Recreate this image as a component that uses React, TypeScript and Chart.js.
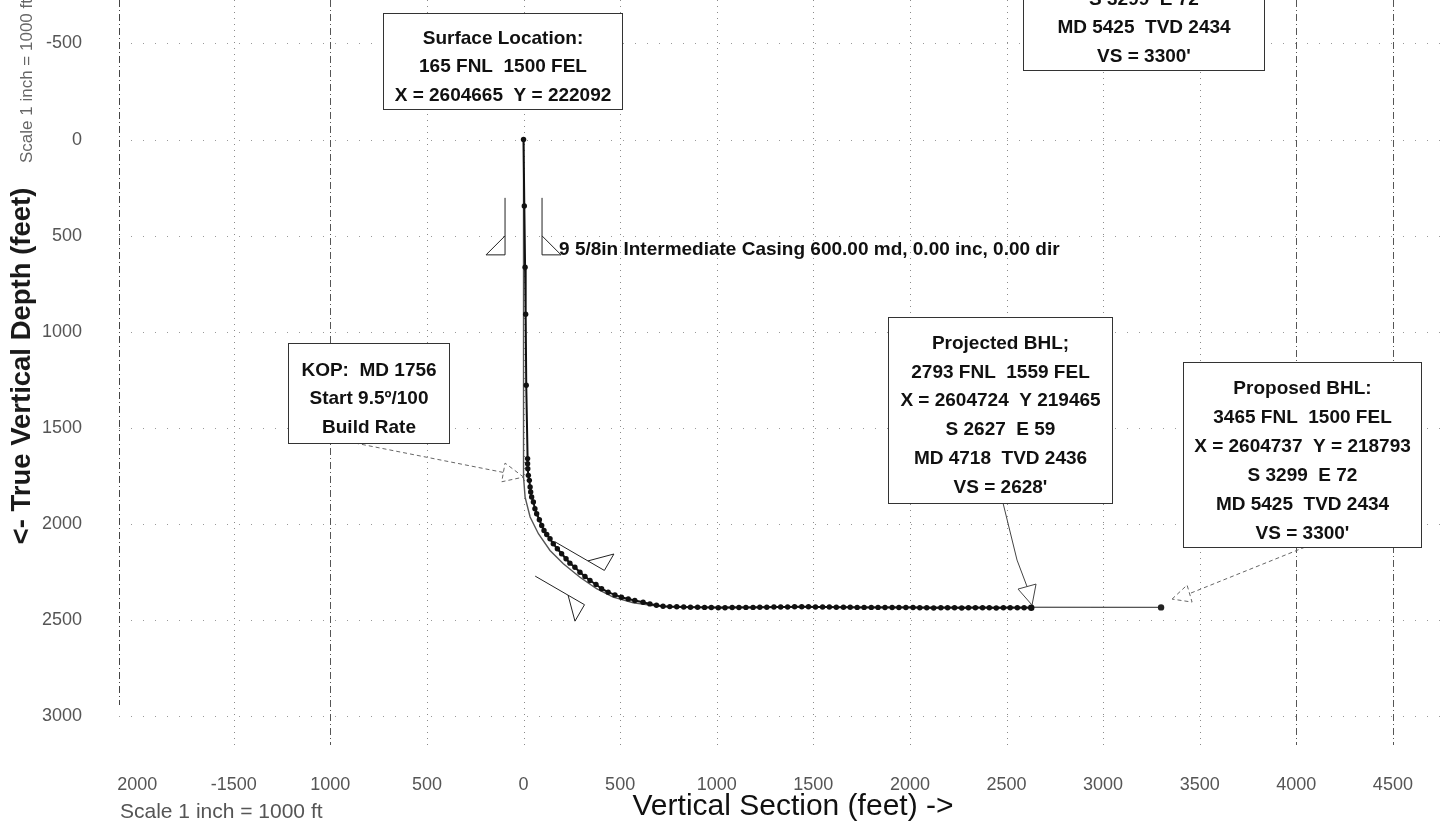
import { useEffect, useRef } from "react";
import { Chart, registerables } from "chart.js";

Chart.register(...registerables);

const FONT = "'Liberation Sans', Arial, Helvetica, sans-serif";

// ---- axes ----
const X_MIN = -2094;
const X_MAX = 4749;
const Y_MIN = -726;
const Y_MAX = 3150;
const X_TICKS = [-2000, -1500, -1000, -500, 0, 500, 1000, 1500, 2000, 2500, 3000, 3500, 4000, 4500];
const X_TICK_LABELS = ["2000", "-1500", "1000", "500", "0", "500", "1000", "1500", "2000", "2500", "3000", "3500", "4000", "4500"];
const Y_TICKS = [-500, 0, 500, 1000, 1500, 2000, 2500, 3000];
const Y_TICK_LABELS = ["-500", "0", "500", "1000", "1500", "2000", "2500", "3000"];
const X_STRONG_GRID = [-1000, 4000, 4500];

// ---- planned well path (vertical section ft, TVD ft) ----
const PLAN_VS = [0, 0, 8, 34, 77, 137, 206, 292, 378, 464, 568, 671, 760, 3300];
const PLAN_TVD = [0, 1756, 1860, 1964, 2051, 2138, 2207, 2277, 2337, 2381, 2410, 2424, 2432, 2434];

// ---- actual survey stations ----
const ACT_VS = [
  0, 4, 8, 11, 14, 21, 21, 22, 25, 30, 34, 37, 42, 51, 59, 68, 82, 94, 106, 120, 137, 154, 175, 197, 220,
  240, 266, 292, 318, 344, 375, 404, 438, 473, 507, 542, 576, 619, 654, 688, 722, 757,
  793, 829, 864, 901, 937, 972, 1008, 1043, 1080, 1115, 1151, 1188, 1223, 1259, 1296, 1331, 1367, 1403,
  1440, 1475, 1511, 1548, 1583, 1619, 1656, 1691, 1727, 1763, 1800, 1835, 1871, 1908, 1943, 1979, 2016,
  2051, 2087, 2123, 2160, 2195, 2231, 2268, 2303, 2339, 2376, 2411, 2447, 2484, 2519, 2556, 2591, 2628,
];
const ACT_TVD = [
  0, 346, 664, 909, 1278, 1660, 1687, 1713, 1747, 1773, 1808, 1834, 1860, 1886, 1921, 1947, 1978, 2008, 2034,
  2055, 2077, 2103, 2129, 2155, 2181, 2204, 2225, 2251, 2273, 2294, 2315, 2337, 2355, 2369, 2381, 2390, 2398,
  2407, 2416, 2423, 2428, 2430,
  2431, 2432, 2433, 2433, 2434, 2435, 2436, 2436, 2435, 2435, 2434, 2434, 2433, 2433, 2432, 2432, 2432, 2431,
  2431, 2431, 2432, 2432, 2432, 2433, 2433, 2433, 2434, 2434, 2434, 2434, 2435, 2435, 2435, 2435, 2435,
  2436, 2436, 2437, 2436, 2436, 2436, 2437, 2436, 2436, 2436, 2436, 2437, 2436, 2436, 2436, 2436, 2436,
];

// ---- annotation boxes (anchored in data units: centre VS, top TVD) ----
const BOX_SURFACE = ["Surface Location:", "165 FNL  1500 FEL", "X = 2604665  Y = 222092"];
const BOX_KOP = ["KOP:  MD 1756", "Start 9.5º/100", "Build Rate"];
const BOX_PROJECTED = ["Projected BHL;", "2793 FNL  1559 FEL", "X = 2604724  Y 219465", "S 2627  E 59", "MD 4718  TVD 2436", "VS = 2628'"];
const BOX_PROPOSED = ["Proposed BHL:", "3465 FNL  1500 FEL", "X = 2604737  Y = 218793", "S 3299  E 72", "MD 5425  TVD 2434", "VS = 3300'"];
const CASING_LABEL = "9 5/8in Intermediate Casing 600.00 md, 0.00 inc, 0.00 dir";

const BOXES = [
  { vs: -109, tvd: -658, w: 239, h: 96, first: 25, gap: 28.5, lines: BOX_SURFACE },
  { vs: -802, tvd: 1059, w: 161, h: 100, first: 27, gap: 28.5, lines: BOX_KOP },
  { vs: 2466, tvd: 923, w: 224, h: 186, first: 26, gap: 28.8, lines: BOX_PROJECTED },
  { vs: 4029, tvd: 1156, w: 238, h: 185, first: 26.6, gap: 29, lines: BOX_PROPOSED },
  { vs: 3209, tvd: -1324, w: 241, h: 185, first: 27.5, gap: 28.8, lines: BOX_PROPOSED },
];

type Pt = [number, number];
const LEADERS: { vs: number; tvd: number; tip: Pt; c1: Pt; c2: Pt; path: Pt[]; dashed: boolean }[] = [
  { vs: 0, tvd: 1756, tip: [0, 0], c1: [-18.5, -14], c2: [-21.8, 4.7], path: [[-168.5, -34], [-20, -4.6]], dashed: true },
  { vs: 2628, tvd: 2436, tip: [0.8, -2.7], c1: [-13.2, -18.7], c2: [4.8, -23.7], path: [[-28.2, -104.7], [-14.2, -47.7], [-4.2, -21.2]], dashed: false },
  { vs: 3300, tvd: 2434, tip: [11, -8.3], c1: [26, -22.3], c2: [31, -5.3], path: [[144, -60.3], [28.5, -13.8]], dashed: true },
];

// casing shoes: anchor (VS, TVD), path direction angle in screen degrees
const CASINGS = [
  { vs: 0, tvd: 600, angle: 90, off: 18.5 },
  { vs: 367, tvd: 2331, angle: 30.1, off: 19.8 },
];

const overlay = {
  id: "wellOverlay",
  beforeDatasetsDraw(chart: any) {
    const ctx = chart.ctx as CanvasRenderingContext2D;
    const xs = chart.scales.x;
    const ys = chart.scales.y;
    const a = chart.chartArea;
    ctx.save();
    ctx.lineWidth = 1;
    // horizontal grid
    Y_TICKS.forEach((v) => {
      const py = Math.round(ys.getPixelForValue(v)) + 0.5;
      ctx.strokeStyle = "#9a9a9a";
      ctx.setLineDash([1, 11]);
      ctx.beginPath();
      ctx.moveTo(a.left, py);
      ctx.lineTo(a.right, py);
      ctx.stroke();
    });
    // vertical grid
    X_TICKS.forEach((v) => {
      if (v === -2000) return;
      const px = Math.round(xs.getPixelForValue(v)) + 0.5;
      const strong = X_STRONG_GRID.includes(v);
      ctx.strokeStyle = strong ? "#555" : "#8a8a8a";
      ctx.setLineDash(strong ? [7, 3, 1, 3] : [1, 5]);
      ctx.beginPath();
      ctx.moveTo(px, a.top);
      ctx.lineTo(px, a.bottom);
      ctx.stroke();
    });
    // left frame line
    ctx.strokeStyle = "#444";
    ctx.setLineDash([7, 3, 1, 3]);
    ctx.beginPath();
    ctx.moveTo(a.left + 0.5, a.top);
    ctx.lineTo(a.left + 0.5, a.bottom - 40);
    ctx.stroke();
    ctx.restore();
  },
  afterDatasetsDraw(chart: any) {
    const ctx = chart.ctx as CanvasRenderingContext2D;
    const xs = chart.scales.x;
    const ys = chart.scales.y;
    ctx.save();

    // casing shoe symbols
    ctx.strokeStyle = "#222";
    ctx.lineWidth = 1;
    ctx.setLineDash([]);
    CASINGS.forEach((c) => {
      const px = xs.getPixelForValue(c.vs);
      const py = ys.getPixelForValue(c.tvd);
      const r = (c.angle * Math.PI) / 180;
      const d: Pt = [Math.cos(r), Math.sin(r)];
      const n: Pt = [d[1], -d[0]];
      [1, -1].forEach((s) => {
        const t: Pt = [px + s * c.off * n[0], py + s * c.off * n[1]];
        ctx.beginPath();
        ctx.moveTo(t[0] - 57 * d[0], t[1] - 57 * d[1]);
        ctx.lineTo(t[0], t[1]);
        ctx.lineTo(t[0] + s * 19 * n[0], t[1] + s * 19 * n[1]);
        ctx.lineTo(t[0] - 19 * d[0], t[1] - 19 * d[1]);
        ctx.stroke();
      });
    });

    // casing label
    ctx.fillStyle = "#111";
    ctx.font = `bold 19px ${FONT}`;
    ctx.textAlign = "left";
    ctx.textBaseline = "alphabetic";
    ctx.fillText(CASING_LABEL, xs.getPixelForValue(0) + 35.5, ys.getPixelForValue(600));

    // leader lines with hollow arrow heads
    LEADERS.forEach((l) => {
      const ax = xs.getPixelForValue(l.vs);
      const ay = ys.getPixelForValue(l.tvd);
      ctx.strokeStyle = l.dashed ? "#666" : "#444";
      ctx.lineWidth = 1;
      ctx.setLineDash(l.dashed ? [4, 3] : []);
      ctx.beginPath();
      l.path.forEach((p, i) => (i === 0 ? ctx.moveTo(ax + p[0], ay + p[1]) : ctx.lineTo(ax + p[0], ay + p[1])));
      ctx.stroke();
      ctx.beginPath();
      ctx.moveTo(ax + l.tip[0], ay + l.tip[1]);
      ctx.lineTo(ax + l.c1[0], ay + l.c1[1]);
      ctx.lineTo(ax + l.c2[0], ay + l.c2[1]);
      ctx.closePath();
      ctx.stroke();
    });

    // text boxes
    ctx.setLineDash([]);
    BOXES.forEach((b) => {
      const cx = xs.getPixelForValue(b.vs);
      const top = Math.round(ys.getPixelForValue(b.tvd)) + 0.5;
      const left = Math.round(cx - b.w / 2) + 0.5;
      ctx.fillStyle = "#fff";
      ctx.fillRect(left, top, b.w, b.h);
      ctx.strokeStyle = "#333";
      ctx.lineWidth = 1;
      ctx.strokeRect(left, top, b.w, b.h);
      ctx.fillStyle = "#111";
      ctx.font = `bold 19px ${FONT}`;
      ctx.textAlign = "center";
      ctx.textBaseline = "middle";
      b.lines.forEach((t, i) => ctx.fillText(t, left + b.w / 2, top + b.first + i * b.gap));
    });
    ctx.restore();
  },
  afterDraw(chart: any) {
    const ctx = chart.ctx as CanvasRenderingContext2D;
    ctx.save();
    // y title
    ctx.translate(22.5, 366);
    ctx.rotate(-Math.PI / 2);
    ctx.fillStyle = "#1a1a1a";
    ctx.font = `bold 27.5px ${FONT}`;
    ctx.textAlign = "center";
    ctx.textBaseline = "middle";
    ctx.fillText("<- True Vertical Depth (feet)", 0, 0);
    ctx.restore();

    ctx.save();
    ctx.translate(27, 163);
    ctx.rotate(-Math.PI / 2);
    ctx.fillStyle = "#666";
    ctx.font = `17px ${FONT}`;
    ctx.textAlign = "left";
    ctx.textBaseline = "middle";
    ctx.fillText("Scale 1 inch = 1000 ft", 0, 0);
    ctx.restore();

    ctx.save();
    ctx.fillStyle = "#111";
    ctx.font = `30px ${FONT}`;
    ctx.textAlign = "center";
    ctx.textBaseline = "middle";
    ctx.fillText("Vertical Section (feet) ->", 793, 807);
    ctx.fillStyle = "#555";
    ctx.font = `21px ${FONT}`;
    ctx.textAlign = "left";
    ctx.fillText("Scale 1 inch = 1000 ft", 120, 812);
    ctx.restore();
  },
};

const noPad = (s: any) => {
  s.paddingTop = 0;
  s.paddingBottom = 0;
  s.paddingLeft = 0;
  s.paddingRight = 0;
};

export default function App() {
  const ref = useRef<HTMLCanvasElement | null>(null);
  useEffect(() => {
    document.body.style.margin = "0";
    const canvas = ref.current;
    if (!canvas) return;
    const actual = ACT_VS.map((x, i) => ({ x, y: ACT_TVD[i] }));
    const planned = PLAN_VS.map((x, i) => ({ x, y: PLAN_TVD[i] }));
    const chart = new Chart(canvas, {
      type: "scatter",
      data: {
        datasets: [
          {
            label: "Actual",
            data: actual,
            showLine: true,
            borderColor: "#111",
            borderWidth: 2,
            pointRadius: actual.map((_, i) => (i === actual.length - 1 ? 3.2 : 2.7)),
            pointBackgroundColor: "#111",
            pointBorderWidth: 0,
          },
          {
            label: "Planned",
            data: planned,
            showLine: true,
            borderColor: "#555",
            borderWidth: 1.4,
            pointRadius: planned.map((_, i) => (i === planned.length - 1 ? 3.2 : 0)),
            pointBackgroundColor: "#222",
            pointBorderWidth: 0,
          },
        ],
      },
      options: {
        responsive: false,
        animation: false,
        layout: { padding: 0, autoPadding: false },
        plugins: { legend: { display: false }, tooltip: { enabled: false } },
        scales: {
          x: {
            type: "linear",
            position: "bottom",
            min: X_MIN,
            max: X_MAX,
            grid: { display: false, drawTicks: false },
            border: { display: false },
            afterBuildTicks: (s: any) => {
              s.ticks = X_TICKS.map((v) => ({ value: v }));
            },
            afterFit: (s: any) => {
              s.height = 83;
              noPad(s);
            },
            ticks: {
              autoSkip: false,
              maxRotation: 0,
              padding: 29,
              color: "#555",
              font: { family: FONT, size: 18 },
              callback: (v: any) => {
                const i = X_TICKS.indexOf(Number(v));
                return i >= 0 ? X_TICK_LABELS[i] : "";
              },
            },
          },
          y: {
            type: "linear",
            position: "left",
            reverse: true,
            min: Y_MIN,
            max: Y_MAX,
            grid: { display: false, drawTicks: false },
            border: { display: false },
            afterBuildTicks: (s: any) => {
              s.ticks = Y_TICKS.map((v) => ({ value: v }));
            },
            afterFit: (s: any) => {
              s.width = 119;
              noPad(s);
            },
            ticks: {
              autoSkip: false,
              padding: 37,
              color: "#555",
              font: { family: FONT, size: 18 },
              callback: (v: any) => {
                const i = Y_TICKS.indexOf(Number(v));
                return i >= 0 ? Y_TICK_LABELS[i] : "";
              },
            },
          },
        },
      },
      plugins: [overlay],
    } as any);
    return () => chart.destroy();
  }, []);
  return <canvas ref={ref} width={1441} height={828} style={{ display: "block", width: 1441, height: 828 }} />;
}
